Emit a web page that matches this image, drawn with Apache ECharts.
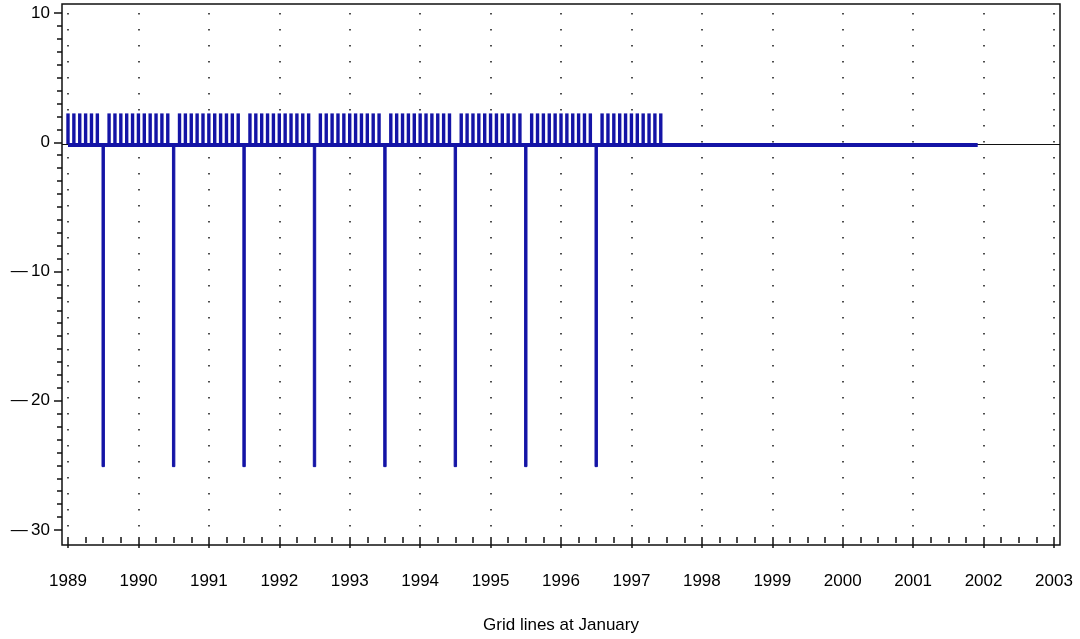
<!DOCTYPE html>
<html><head><meta charset="utf-8">
<script src="https://cdn.jsdelivr.net/npm/echarts@6/dist/echarts.min.js"></script>
<style>html,body{margin:0;padding:0;background:#fff}#c{width:1080px;height:639px}</style>
</head><body><div id="c"></div>
<script>
// ---- data (monthly values, Jan..Dec) ----
const years = [1989,1990,1991,1992,1993,1994,1995,1996,1997,1998,1999,2000,2001];
const v1989 = [2.35,2.35,2.35,2.35,2.35,2.35,-24.6,2.35,2.35,2.35,2.35,2.35];
const v1990 = [2.35,2.35,2.35,2.35,2.35,2.35,-24.6,2.35,2.35,2.35,2.35,2.35];
const v1991 = [2.35,2.35,2.35,2.35,2.35,2.35,-24.6,2.35,2.35,2.35,2.35,2.35];
const v1992 = [2.35,2.35,2.35,2.35,2.35,2.35,-24.6,2.35,2.35,2.35,2.35,2.35];
const v1993 = [2.35,2.35,2.35,2.35,2.35,2.35,-24.6,2.35,2.35,2.35,2.35,2.35];
const v1994 = [2.35,2.35,2.35,2.35,2.35,2.35,-24.6,2.35,2.35,2.35,2.35,2.35];
const v1995 = [2.35,2.35,2.35,2.35,2.35,2.35,-24.6,2.35,2.35,2.35,2.35,2.35];
const v1996 = [2.35,2.35,2.35,2.35,2.35,2.35,-24.6,2.35,2.35,2.35,2.35,2.35];
const v1997 = [2.35,2.35,2.35,2.35,2.35,2.35,0,0,0,0,0,0];
const v1998 = [0,0,0,0,0,0,0,0,0,0,0,0];
const v1999 = [0,0,0,0,0,0,0,0,0,0,0,0];
const v2000 = [0,0,0,0,0,0,0,0,0,0,0,0];
const v2001 = [0,0,0,0,0,0,0,0,0,0,0,0];
const values = [v1989,v1990,v1991,v1992,v1993,v1994,v1995,v1996,v1997,v1998,v1999,v2000,v2001];
const xTickMin = 1989, xTickMax = 2003, xTickStep = 1;
const yTickMin = -30, yTickMax = 10, yTickStep = 10;
const xTitle = 'Grid lines at January';

// ---- layout ----
const W = 1080, H = 639;
const tick = {l: 68, r: 1054, t: 13, b: 538};     // pixel span of first/last ticks
const frame = {l: 62, r: 1060, t: 4, b: 545};     // plot frame
const pxX = (tick.r - tick.l) / (xTickMax - xTickMin);
const pxY = (tick.b - tick.t) / (yTickMax - yTickMin);
const BLUE = '#1414a6';
const font = 'Liberation Sans';

const pts = [];
years.forEach((y, i) => values[i].forEach((v, m) => pts.push([y + m / 12, v])));
const barData = pts.map(p => p[1] < 0
  ? {value: p, itemStyle: {borderColor: BLUE, borderWidth: 1}}
  : {value: p});

const chart = echarts.init(document.getElementById('c'), null, {renderer: 'canvas'});
chart.setOption({
  animation: false,
  backgroundColor: '#fff',
  grid: [
    {left: frame.l, right: W - frame.r, top: frame.t, bottom: H - frame.b,
     show: true, borderColor: '#111', borderWidth: 1.5, backgroundColor: 'transparent'},
    {left: tick.l, right: W - tick.r, top: tick.t, bottom: H - tick.b}
  ],
  xAxis: [
    {type: 'value', gridIndex: 0, show: false,
     min: xTickMin - (tick.l - frame.l) / pxX, max: xTickMax + (frame.r - tick.r) / pxX},
    {type: 'value', gridIndex: 1, position: 'bottom', min: xTickMin, max: xTickMax, interval: xTickStep,
     offset: frame.b - tick.b,
     axisLine: {show: false, onZero: false},
     axisTick: {show: true, length: 11, lineStyle: {color: '#111', width: 1.5}},
     minorTick: {show: true, splitNumber: 4, length: 6, lineStyle: {color: '#111', width: 1.5}},
     splitLine: {show: true, lineStyle: {color: '#222', width: 1.6, type: [1.6, 14.4]}},
     axisLabel: {color: '#000', fontFamily: font, fontSize: 17, margin: 36, formatter: v => String(v)},
     name: xTitle, nameLocation: 'middle', nameGap: 80,
     nameTextStyle: {color: '#000', fontFamily: font, fontSize: 17}}
  ],
  yAxis: [
    {type: 'value', gridIndex: 0, show: false,
     min: yTickMin - (frame.b - tick.b) / pxY, max: yTickMax + (tick.t - frame.t) / pxY},
    {type: 'value', gridIndex: 1, position: 'left', min: yTickMin, max: yTickMax, interval: yTickStep,
     offset: tick.l - frame.l,
     axisLine: {show: false, onZero: false},
     axisTick: {show: true, length: 8, lineStyle: {color: '#111', width: 1.5}},
     minorTick: {show: true, splitNumber: 10, length: 5, lineStyle: {color: '#111', width: 1.5}},
     splitLine: {show: false},
     axisLabel: {color: '#000', fontFamily: font, fontSize: 17, margin: 12,
       formatter: v => v < 0 ? '\u2014\u2009' + Math.abs(v) : String(v)}}
  ],
  series: [{
    type: 'bar', xAxisIndex: 0, yAxisIndex: 0, barWidth: 3.4,
    itemStyle: {color: BLUE}, data: barData,
    markLine: {
      silent: true, symbol: 'none', label: {show: false}, animation: false,
      data: [
        {yAxis: 0, lineStyle: {color: '#111', width: 1, type: 'solid'}},
        [{coord: [pts[0][0], 0]}, {coord: [pts[pts.length - 1][0], 0],
          lineStyle: {color: BLUE, width: 4, type: 'solid'}}]
      ]
    }
  }]
});
</script></body></html>
